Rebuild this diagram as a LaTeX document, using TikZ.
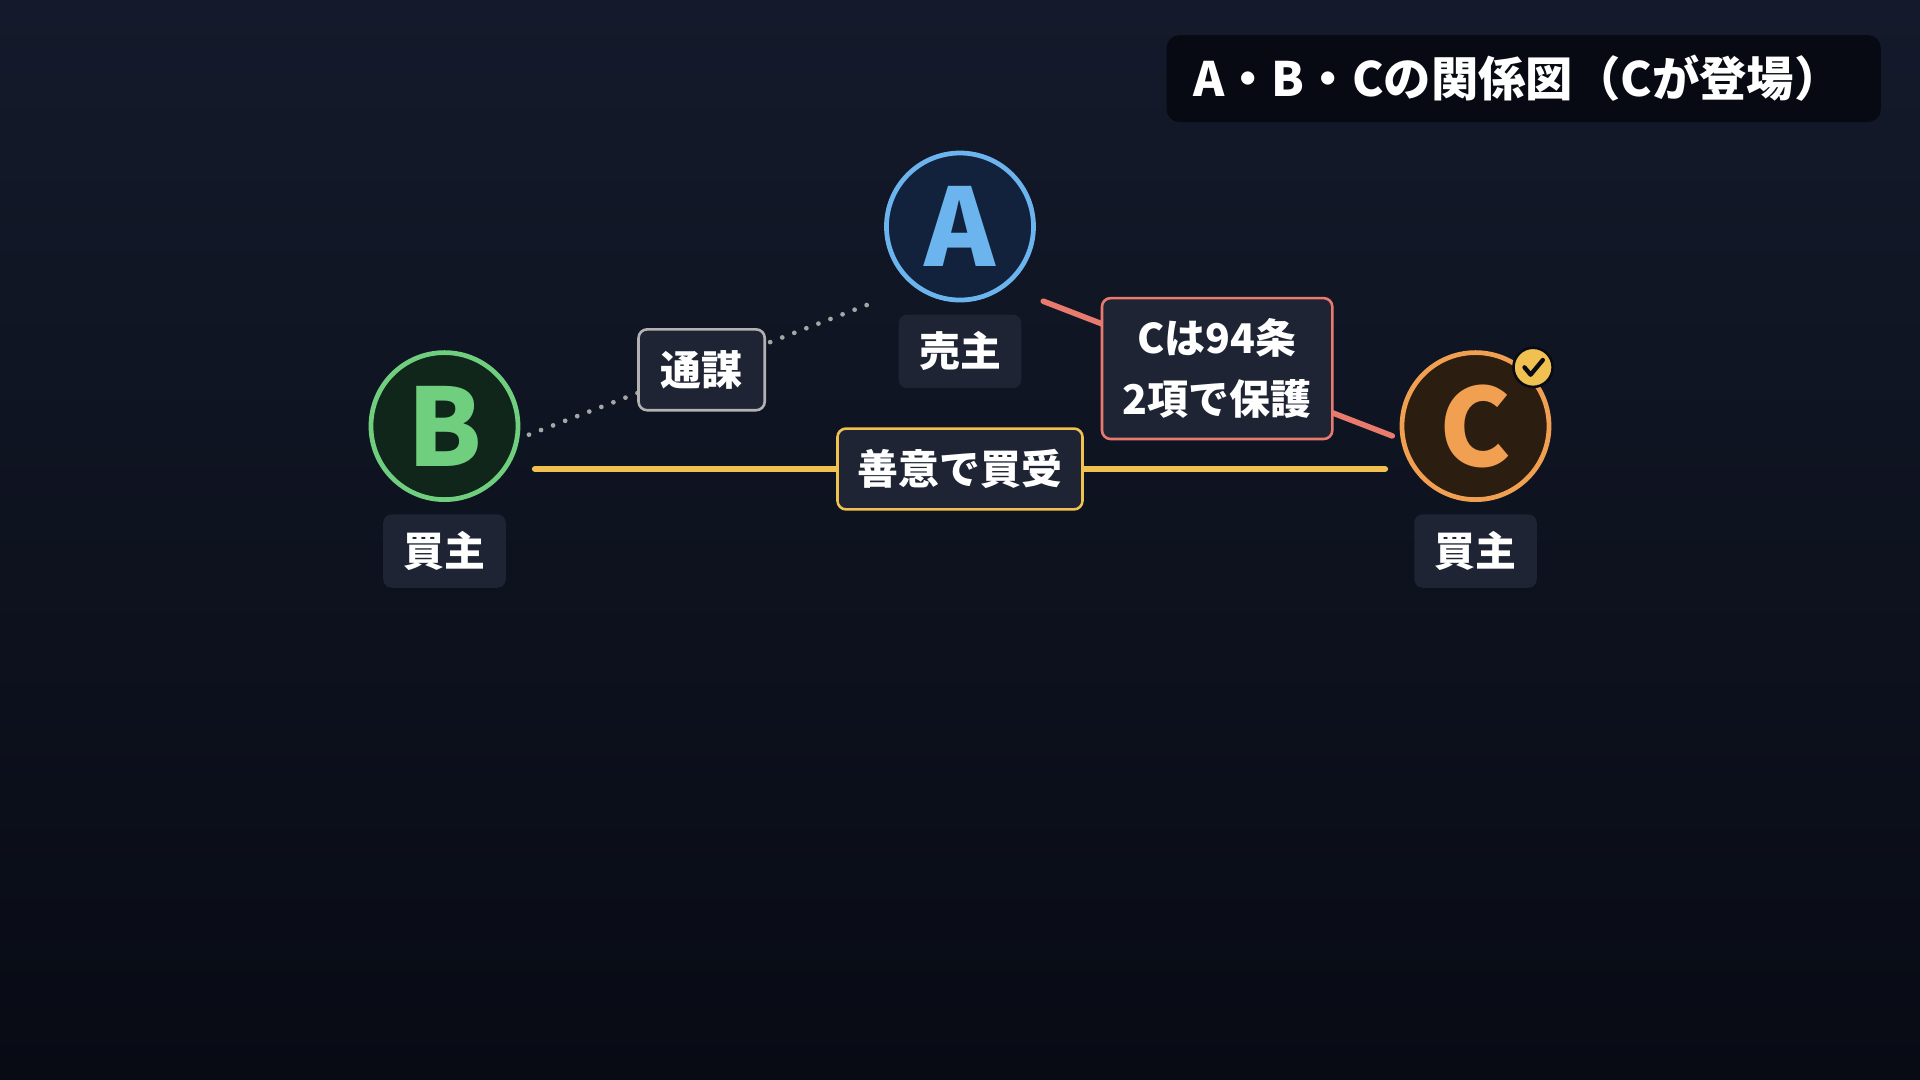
\documentclass[tikz,border=0pt]{standalone}
\usepackage{fontspec}
\setmainfont{Noto Sans CJK JP}
\begin{document}
\begin{tikzpicture}[x=0.01cm,y=-0.01cm,
  lbl/.style={draw=none,fill=lblbg,rounded corners=2pt,text=white,font=\fontsize{9.5}{12}\selectfont\bfseries,inner sep=0pt},
  circ/.style={circle,minimum size=1.2cm,line width=1.1pt,font=\fontsize{25}{25}\selectfont\bfseries,inner sep=0pt}]
\definecolor{bgtop}{HTML}{141A2B}\definecolor{bgbot}{HTML}{080B14}
\definecolor{lblbg}{HTML}{1E2433}
\definecolor{blueA}{HTML}{6CB4EE}\definecolor{greenB}{HTML}{6FCF7F}\definecolor{orangeC}{HTML}{F0A050}
\definecolor{fillA}{HTML}{12223C}\definecolor{fillB}{HTML}{10261A}\definecolor{fillC}{HTML}{2B1D10}
\definecolor{yel}{HTML}{F0C050}\definecolor{redl}{HTML}{E87A6E}\definecolor{tbg}{HTML}{070A12}
\shade[top color=bgtop,bottom color=bgbot] (0,0) rectangle (1568,882);
\useasboundingbox (0,0) rectangle (1568,882);
% title
\node[fill=tbg,rounded corners=3pt,minimum width=5.83cm,minimum height=0.71cm,anchor=north west,inner sep=0pt] (tbox) at (952,28) {};
\node[anchor=west,text=white,font=\fontsize{11}{14}\selectfont\bfseries] (title) at (962,64) {A・B・Cの関係図（Cが登場）};
% edges endpoints
\coordinate (d1) at (432,355); \coordinate (d2) at (716,246);
\coordinate (y1) at (437,383); \coordinate (y2) at (1131,383);
\coordinate (r1) at (852,246); \coordinate (r2) at (1137,356);
\draw[gray!70,line width=1.1pt,line cap=round,dash pattern=on 0pt off 3pt] (d1) -- (d2);
\draw[yel,line width=1.5pt,line cap=round] (y1) -- (y2);
\draw[redl,line width=1.3pt,line cap=round] (r1) -- (r2);
% circles
\node[circ,fill=fillA,draw=blueA,text=blueA] (A) at (784,185) {A};
\node[circ,fill=fillB,draw=greenB,text=greenB] (B) at (363,348) {B};
\node[circ,fill=fillC,draw=orangeC,text=orangeC] (C) at (1205,348) {C};
\node[circle,fill=yel,draw=bgbot,line width=0.6pt,minimum size=0.32cm,inner sep=0pt] (chk) at (1252,300) {};
\draw[bgbot,line width=1pt,line cap=round,line join=round] ([shift={(-7,0)}]chk.center) -- ([shift={(-2,6)}]chk.center) -- ([shift={(8,-6)}]chk.center);
% labels
\node[lbl,minimum width=1cm,minimum height=0.6cm] (lA) at (784,287) {売主};
\node[lbl,minimum width=1cm,minimum height=0.6cm] (lB) at (363,450) {買主};
\node[lbl,minimum width=1cm,minimum height=0.6cm] (lC) at (1205,450) {買主};
\node[lbl,draw=gray!60,line width=0.6pt,minimum width=1.03cm,minimum height=0.66cm] (tsu) at (573,302) {通謀};
\node[lbl,draw=yel,line width=0.6pt,minimum width=2cm,minimum height=0.66cm] (zen) at (784,383) {善意で買受};
\node[lbl,draw=redl,line width=0.6pt,minimum width=1.88cm,minimum height=1.15cm,align=center,font=\fontsize{9.5}{14}\selectfont\bfseries] (hogo) at (994,301) {Cは94条\\2項で保護};
\end{tikzpicture}
\end{document}
